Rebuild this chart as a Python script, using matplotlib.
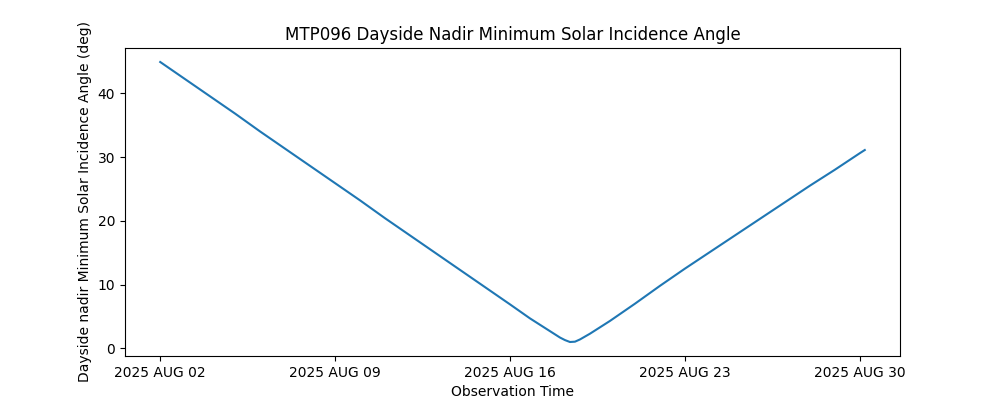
import matplotlib
matplotlib.use("Agg")
import matplotlib.pyplot as plt
import matplotlib.dates as mdates
from datetime import datetime, timedelta

# data (days since 2025 AUG 02 00:00, angle in deg)
days = [0, 1, 2, 3, 4, 5, 6, 7, 8, 9, 10, 11, 12, 13, 14, 14.8, 15.2,
        15.6, 16.0, 16.2, 16.4, 16.6, 16.8, 17.2, 17.6, 18, 19, 20, 21,
        22, 23, 24, 25, 26, 27, 28, 28.2]
angle = [44.9, 42.2, 39.5, 36.8, 34.0, 31.3, 28.6, 25.9, 23.2, 20.4, 17.7,
         15.0, 12.3, 9.6, 6.9, 4.7, 3.7,
         2.7, 1.7, 1.3, 1.0, 1.05, 1.4, 2.3, 3.3, 4.3, 7.0, 9.8, 12.5,
         15.1, 17.7, 20.3, 22.9, 25.5, 28.0, 30.6, 31.1]

start = datetime(2025, 8, 2)
times = [start + timedelta(days=d) for d in days]

fig, ax = plt.subplots(figsize=(10, 4), dpi=100)
ax.plot(times, angle)

ax.xaxis.set_major_locator(mdates.DayLocator(bymonthday=[2, 9, 16, 23, 30]))
ax.xaxis.set_major_formatter(
    plt.FuncFormatter(lambda x, pos: mdates.num2date(x).strftime("%Y %b %d").upper()))

ax.set_title("MTP096 Dayside Nadir Minimum Solar Incidence Angle")
ax.set_xlabel("Observation Time")
ax.set_ylabel("Dayside nadir Minimum Solar Incidence Angle (deg)")

fig.savefig("out.png", dpi=100)
